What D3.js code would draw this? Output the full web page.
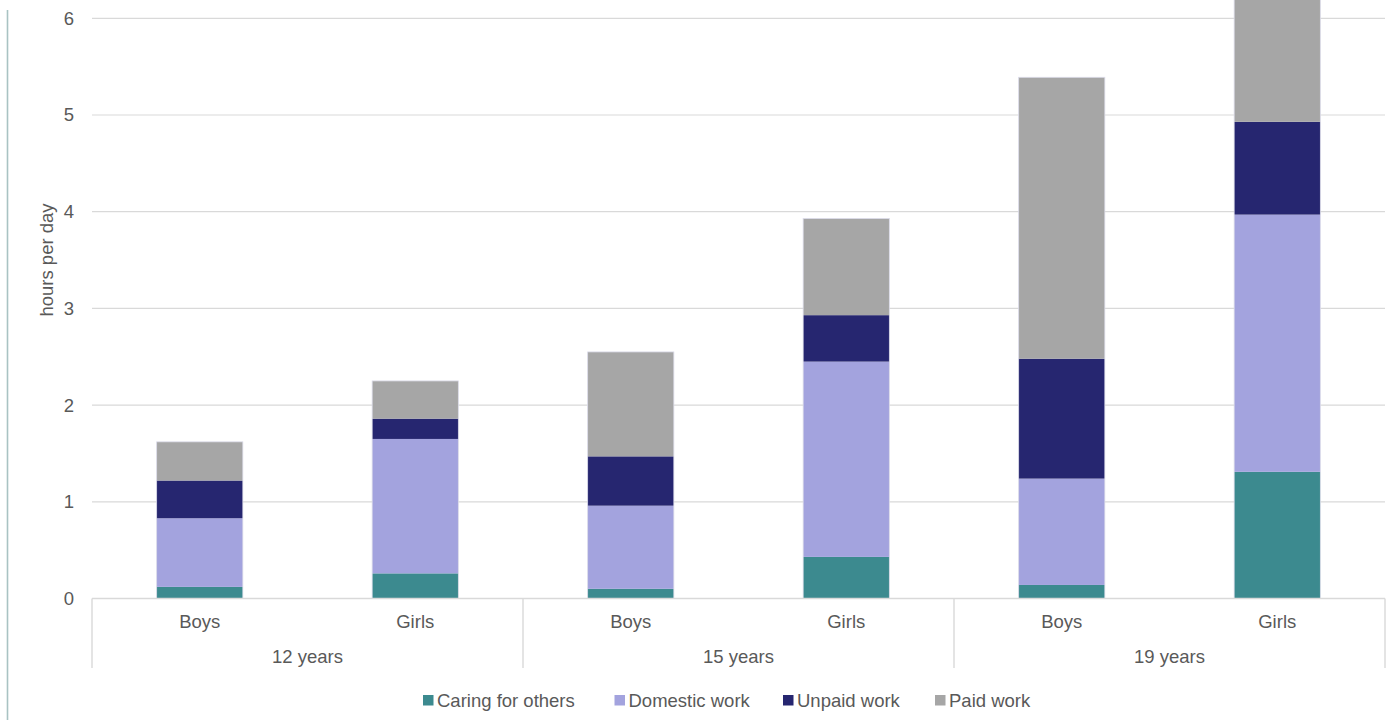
<!DOCTYPE html>
<html>
<head>
<meta charset="utf-8">
<script src="https://cdn.jsdelivr.net/npm/d3@7"></script>
<style>
  html, body { margin: 0; padding: 0; background: #ffffff; }
  svg { display: block; }
  text { font-family: "Liberation Sans", Arial, sans-serif; fill: #595959; }
</style>
</head>
<body>
<svg id="chart" width="1393" height="720"></svg>
<script>
// Age groups and the two bars within each group
const ageGroups = ["12 years", "15 years", "19 years"];
const sexes = ["Boys", "Girls"];

// Series (hours per day), ordered Boys 12, Girls 12, Boys 15, Girls 15, Boys 19, Girls 19
const seriesNames = ["Caring for others", "Domestic work", "Unpaid work", "Paid work"];
const caringForOthers = [0.12, 0.26, 0.10, 0.43, 0.14, 1.31];
const domesticWork    = [0.71, 1.39, 0.86, 2.02, 1.10, 2.66];
const unpaidWork      = [0.39, 0.21, 0.51, 0.48, 1.24, 0.96];
const paidWork        = [0.40, 0.39, 1.08, 1.00, 2.91, 1.55];
const seriesColors = ["#3c8a8f", "#a3a3de", "#262670", "#a6a6a6"];

const yTicks = [0, 1, 2, 3, 4, 5, 6];

// Build one row per bar
const rows = [];
ageGroups.forEach((g, gi) => {
  sexes.forEach((s, si) => {
    const i = gi * sexes.length + si;
    rows.push({
      group: g, sex: s,
      "Caring for others": caringForOthers[i],
      "Domestic work": domesticWork[i],
      "Unpaid work": unpaidWork[i],
      "Paid work": paidWork[i]
    });
  });
});

const svg = d3.select("#chart");
const W = 1393, H = 720;
const plot = { left: 92, right: 1385, top: 18.3, bottom: 598.5 };

svg.append("rect").attr("width", W).attr("height", H).attr("fill", "#ffffff");

// Thin rule down the left edge of the page
svg.append("line")
  .attr("x1", 7.5).attr("x2", 7.5).attr("y1", 10).attr("y2", H)
  .attr("stroke", "#a9c3c3").attr("stroke-width", 1.6);

const y = d3.scaleLinear().domain([0, 6]).range([plot.bottom, plot.top]);
const xGroup = d3.scaleBand().domain(ageGroups).range([plot.left, plot.right]).padding(0);
const xSex = d3.scaleBand().domain(sexes).range([0, xGroup.bandwidth()])
  .paddingInner(0.6).paddingOuter(0.3);

// Horizontal gridlines
svg.append("g")
  .selectAll("line")
  .data(yTicks.filter(t => t > 0))
  .join("line")
  .attr("x1", plot.left).attr("x2", plot.right)
  .attr("y1", d => y(d)).attr("y2", d => y(d))
  .attr("stroke", "#d9d9d9").attr("stroke-width", 1.2);

// Y axis tick labels
const yAxis = d3.axisLeft(y).tickValues(yTicks).tickFormat(d3.format("d")).tickSize(0).tickPadding(0);
const yAxisG = svg.append("g").attr("transform", "translate(74,0)").call(yAxis);
yAxisG.select(".domain").remove();
yAxisG.selectAll("text")
  .attr("font-size", "18.5px")
  .attr("fill", "#595959")
  .attr("font-family", "Liberation Sans, Arial, sans-serif");

// Y axis title
svg.append("text")
  .attr("transform", "translate(53,260) rotate(-90)")
  .attr("text-anchor", "middle")
  .attr("font-size", "18.5px")
  .text("hours per day");

// Stacked bars
const stack = d3.stack().keys(seriesNames);
const stacked = stack(rows);

const barsG = svg.append("g");
stacked.forEach((layer, li) => {
  barsG.append("g")
    .attr("fill", seriesColors[li])
    .selectAll("rect")
    .data(layer)
    .join("rect")
    .attr("x", d => xGroup(d.data.group) + xSex(d.data.sex))
    .attr("width", xSex.bandwidth())
    .attr("y", d => y(d[1]))
    .attr("height", d => y(d[0]) - y(d[1]));
});

// Faint outline around each bar
barsG.append("g")
  .selectAll("rect")
  .data(rows)
  .join("rect")
  .attr("x", d => xGroup(d.group) + xSex(d.sex))
  .attr("width", xSex.bandwidth())
  .attr("y", d => y(d3.sum(seriesNames, k => d[k])))
  .attr("height", d => y(0) - y(d3.sum(seriesNames, k => d[k])))
  .attr("fill", "none")
  .attr("stroke", "#dcdcea")
  .attr("stroke-width", 0.8);

// Category axis: baseline, group dividers, labels
const axisG = svg.append("g");
axisG.append("line")
  .attr("x1", plot.left).attr("x2", plot.right)
  .attr("y1", y(0)).attr("y2", y(0))
  .attr("stroke", "#d9d9d9").attr("stroke-width", 1.4);

const dividers = ageGroups.map(g => xGroup(g)).concat([xGroup.range()[1]]);
axisG.selectAll("line.div")
  .data(dividers)
  .join("line")
  .attr("class", "div")
  .attr("x1", d => d).attr("x2", d => d)
  .attr("y1", y(0)).attr("y2", 668)
  .attr("stroke", "#d9d9d9").attr("stroke-width", 1.4);

axisG.selectAll("text.sex")
  .data(rows)
  .join("text")
  .attr("class", "sex")
  .attr("x", d => xGroup(d.group) + xSex(d.sex) + xSex.bandwidth() / 2)
  .attr("y", 627.5)
  .attr("text-anchor", "middle")
  .attr("font-size", "18.5px")
  .text(d => d.sex);

axisG.selectAll("text.grp")
  .data(ageGroups)
  .join("text")
  .attr("class", "grp")
  .attr("x", d => xGroup(d) + xGroup.bandwidth() / 2)
  .attr("y", 662.5)
  .attr("text-anchor", "middle")
  .attr("font-size", "18.5px")
  .text(d => d);

// Legend
const legendX = [423, 614.5, 783, 935];
const legendG = svg.append("g");
seriesNames.forEach((name, i) => {
  const g = legendG.append("g").attr("transform", `translate(${legendX[i]},0)`);
  g.append("rect")
    .attr("x", 0).attr("y", 695).attr("width", 10.5).attr("height", 10.5)
    .attr("fill", seriesColors[i]);
  g.append("text")
    .attr("x", 14).attr("y", 706.5)
    .attr("font-size", "18.5px")
    .text(name);
});
</script>
</body>
</html>
